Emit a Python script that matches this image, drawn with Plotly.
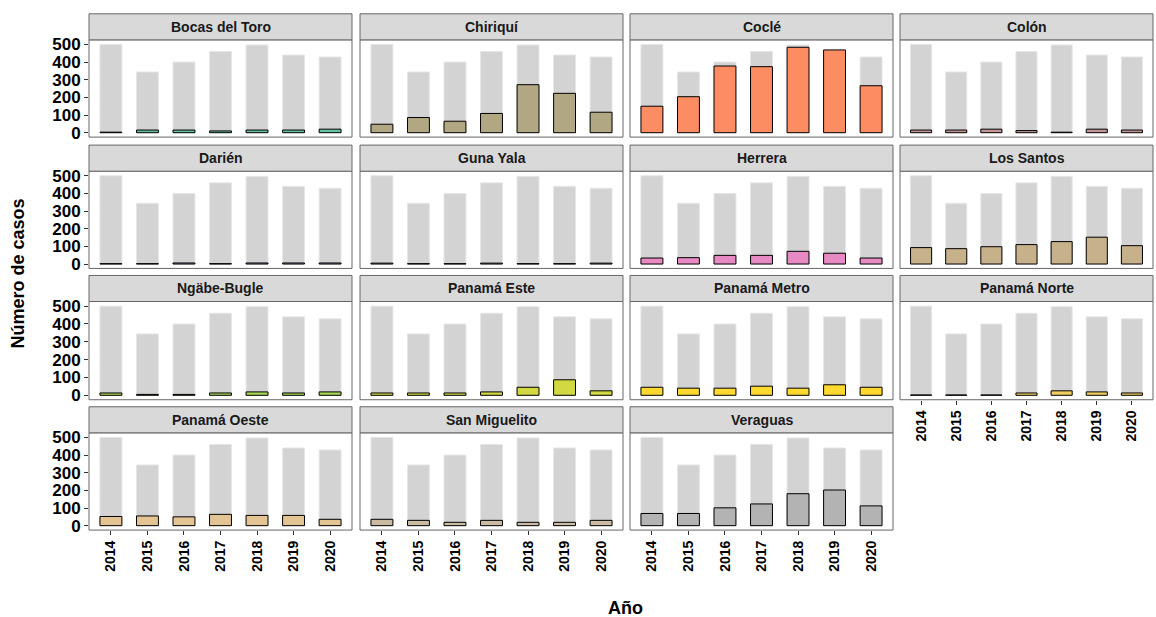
import plotly.graph_objects as go

years = ["2014", "2015", "2016", "2017", "2018", "2019", "2020"]
total = [500, 344, 400, 460, 497, 440, 429]

regions = ["Bocas del Toro", "Chiriquí", "Coclé", "Colón",
           "Darién", "Guna Yala", "Herrera", "Los Santos",
           "Ngäbe-Bugle", "Panamá Este", "Panamá Metro", "Panamá Norte",
           "Panamá Oeste", "San Miguelito", "Veraguas"]

bocas = [3, 15, 15, 10, 15, 15, 20]
chiriqui = [48, 86, 65, 109, 272, 223, 116]
cocle = [150, 204, 378, 374, 484, 469, 266]
colon = [15, 15, 20, 12, 3, 20, 15]
darien = [2, 2, 6, 2, 6, 6, 6]
guna_yala = [5, 2, 2, 5, 2, 2, 5]
herrera = [34, 36, 49, 49, 72, 61, 34]
los_santos = [93, 87, 98, 110, 127, 152, 104]
ngabe = [13, 5, 5, 13, 19, 13, 19]
pma_este = [13, 13, 13, 19, 45, 87, 25]
pma_metro = [45, 40, 40, 51, 40, 59, 45]
pma_norte = [2, 2, 2, 13, 25, 19, 13]
pma_oeste = [52, 55, 50, 64, 58, 58, 36]
san_miguelito = [36, 30, 19, 30, 19, 19, 30]
veraguas = [69, 69, 101, 123, 181, 202, 112]

values = [bocas, chiriqui, cocle, colon, darien, guna_yala, herrera, los_santos,
          ngabe, pma_este, pma_metro, pma_norte, pma_oeste, san_miguelito, veraguas]

# Set2 stretched to 15 colours
colors = ["#66C2A5", "#B1A783", "#FC8D62", "#C49696", "#8DA0CB",
          "#BA95C7", "#E78AC3", "#C6B18B", "#A6D854", "#D2D841",
          "#FFD92F", "#F2CE61", "#E5C494", "#CCBBA3", "#B3B3B3"]

W, H = 1156, 617
col_px = [(89, 352), (360, 623), (630, 893), (900, 1153)]
row_px = [(39, 136), (170, 267), (300, 398), (431, 528)]
STRIP = 26

FONT = "Liberation Sans, Arial, sans-serif"


def py(v):
    # target pixel row -> paper y (small correction for the page stretch seen in the render)
    v = 13 + (v - 16) / 0.983
    return 1 - v / H


fig = go.Figure()
layout = {}
shapes = []
annotations = []

for i, (name, vals, col) in enumerate(zip(regions, values, colors)):
    r, c = divmod(i, 4)
    n = i + 1
    xa = "x" if n == 1 else f"x{n}"
    ya = "y" if n == 1 else f"y{n}"
    fig.add_trace(go.Bar(
        x=years, y=total, width=0.6, xaxis=xa, yaxis=ya,
        marker=dict(color="#D3D3D3", line=dict(color="#E6E6E6", width=1)),
        hoverinfo="skip", showlegend=False,
    ))
    fig.add_trace(go.Bar(
        x=years, y=vals, width=0.6, xaxis=xa, yaxis=ya, name=name,
        marker=dict(color=col, line=dict(color="black", width=1)),
        showlegend=False,
    ))

    x0, x1 = col_px[c]
    yt, yb = row_px[r]
    bottom = (r == 3) or (r == 2 and c == 3)
    left = c == 0

    layout["xaxis" if n == 1 else f"xaxis{n}"] = dict(
        domain=[x0 / W, x1 / W], anchor=ya, type="category",
        range=[-0.6, 6.6], showgrid=False, zeroline=False, showline=False,
        showticklabels=bottom, ticks="outside" if bottom else "",
        ticklen=4, tickcolor="#333333", tickangle=-90,
        tickfont=dict(family=FONT, size=14, color="black", weight="bold"),
        fixedrange=True,
    )
    layout["yaxis" if n == 1 else f"yaxis{n}"] = dict(
        domain=[py(yb), py(yt)], anchor=xa,
        range=[-25, 526], tickvals=[0, 100, 200, 300, 400, 500],
        showgrid=False, zeroline=False, showline=False,
        showticklabels=left, ticks="outside" if left else "",
        ticklen=4, tickcolor="#333333",
        tickfont=dict(family=FONT, size=17, color="black", weight="bold"),
        fixedrange=True,
    )

    # panel border
    shapes.append(dict(type="rect", xref="paper", yref="paper",
                       x0=x0 / W, x1=x1 / W, y0=py(yb), y1=py(yt),
                       line=dict(color="#666666", width=1), fillcolor="rgba(0,0,0,0)",
                       layer="above"))
    # strip
    shapes.append(dict(type="rect", xref="paper", yref="paper",
                       x0=x0 / W, x1=x1 / W, y0=py(yt), y1=py(yt - STRIP),
                       line=dict(color="#666666", width=1), fillcolor="#D9D9D9"))
    annotations.append(dict(text=f"<b>{name}</b>", xref="paper", yref="paper",
                            x=(x0 + x1) / 2 / W, y=py(yt - STRIP / 2),
                            showarrow=False, xanchor="center", yanchor="middle",
                            font=dict(family=FONT, size=14, color="#1A1A1A")))

annotations.append(dict(text="<b>Número de casos</b>", xref="paper", yref="paper",
                        x=18 / W, y=py(272), textangle=-90, showarrow=False,
                        xanchor="center", yanchor="middle",
                        font=dict(family=FONT, size=18, color="black")))
annotations.append(dict(text="<b>Año</b>", xref="paper", yref="paper",
                        x=625 / W, y=py(606), showarrow=False,
                        xanchor="center", yanchor="middle",
                        font=dict(family=FONT, size=18, color="black")))

fig.update_layout(
    **layout,
    barmode="overlay",
    width=W, height=H,
    margin=dict(l=0, r=0, t=0, b=0),
    paper_bgcolor="white", plot_bgcolor="white",
    shapes=shapes, annotations=annotations,
    font=dict(family=FONT),
)

# drop the browser's default body margin so the figure sits at the page origin
fig.write_html("out.html", config={"displayModeBar": False},
               post_script="document.body.style.margin='0';")
